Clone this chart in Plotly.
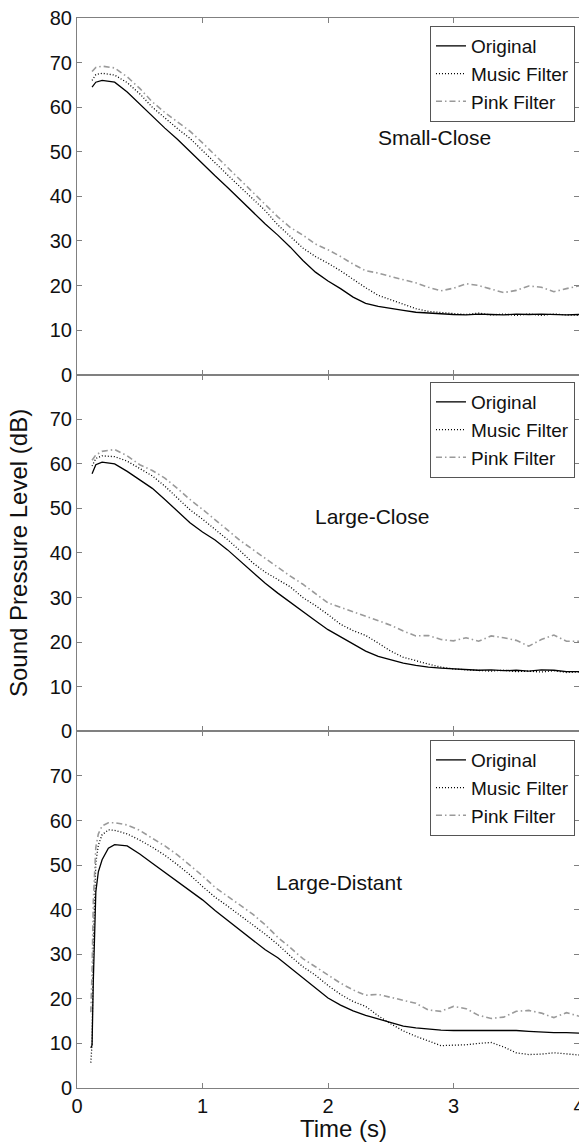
import plotly.graph_objects as go
from plotly.subplots import make_subplots

# ---------------- data ----------------
t_grid = [0.12, 0.15, 0.20, 0.30, 0.40, 0.50, 0.60, 0.70, 0.80, 0.90, 1.00,
          1.10, 1.20, 1.30, 1.40, 1.50, 1.60, 1.70, 1.80, 1.90, 2.00,
          2.10, 2.20, 2.30, 2.40, 2.50, 2.60, 2.70, 2.80, 2.90, 3.00,
          3.10, 3.20, 3.30, 3.40, 3.50, 3.60, 3.70, 3.80, 3.90, 4.00]

# Small-Close
sc_original = [64.5, 65.6, 66.0, 65.6, 63.4, 60.7, 57.8, 55.3, 52.8, 50.0, 47.2,
               44.6, 42.0, 39.2, 36.5, 33.8, 31.3, 28.6, 25.6, 23.0, 21.0,
               19.3, 17.4, 16.0, 15.3, 14.8, 14.4, 14.0, 13.8, 13.6, 13.5,
               13.4, 13.6, 13.5, 13.4, 13.6, 13.5, 13.6, 13.5, 13.4, 13.5]
sc_music = [66.0, 67.3, 67.6, 67.2, 65.5, 63.0, 60.0, 57.5, 55.2, 53.0, 50.2,
            47.4, 44.8, 42.1, 39.5, 36.8, 33.6, 31.0, 28.4, 26.5, 25.0,
            23.3, 21.3, 19.5, 17.8, 16.8, 15.7, 14.8, 14.2, 13.9, 13.7,
            13.5, 13.8, 13.4, 13.6, 13.3, 13.6, 13.3, 13.6, 13.4, 13.3]
sc_pink = [68.0, 68.9, 69.2, 68.8, 66.8, 64.2, 61.2, 58.8, 56.7, 54.6, 52.0,
           49.2, 46.5, 43.8, 40.9, 38.2, 35.4, 33.0, 31.3, 29.3, 28.0,
           26.5, 24.8, 23.3, 22.8, 22.0, 21.3, 20.6, 19.6, 18.8, 19.4,
           20.4, 20.0, 19.2, 18.4, 18.9, 19.9, 19.6, 18.6, 19.3, 19.9]

# Large-Close
lc_original = [57.8, 59.8, 60.4, 60.0, 58.3, 56.3, 54.5, 52.0, 49.5, 46.8, 44.7,
               42.9, 40.7, 38.2, 35.6, 33.2, 31.0, 29.0, 27.0, 24.8, 22.8,
               21.2, 19.7, 18.0, 16.8, 16.0, 15.3, 14.8, 14.4, 14.2, 14.0,
               13.8, 13.7, 13.8, 13.6, 13.7, 13.5, 13.8, 13.7, 13.4, 13.4]
lc_music = [59.5, 61.2, 61.8, 61.6, 60.6, 59.0, 57.3, 55.0, 52.3, 49.7, 47.6,
            45.4, 43.0, 40.5, 37.8, 35.7, 34.0, 32.4, 30.0, 28.2, 26.2,
            24.0, 22.6, 21.5, 19.8, 18.0, 16.6, 15.8, 15.1, 14.4, 14.0,
            13.8, 13.6, 13.5, 13.7, 13.4, 13.5, 13.3, 13.6, 13.2, 13.3]
lc_pink = [60.8, 62.0, 62.8, 63.2, 61.8, 59.8, 58.5, 56.8, 54.5, 52.0, 49.8,
           47.4, 45.0, 42.8, 40.8, 38.8, 36.6, 34.8, 33.0, 31.0, 28.8,
           27.8, 26.8, 25.8, 24.8, 23.8, 22.5, 21.4, 21.5, 20.6, 20.3,
           21.0, 20.2, 21.4, 21.0, 20.4, 19.1, 20.6, 21.6, 20.2, 20.2]

# Large-Distant
t_dist = [0.11, 0.12, 0.13, 0.14, 0.15, 0.17, 0.20, 0.25, 0.30, 0.40, 0.50,
          0.60, 0.70, 0.80, 0.90, 1.00, 1.10, 1.20, 1.30, 1.40, 1.50,
          1.60, 1.70, 1.80, 1.90, 2.00, 2.10, 2.20, 2.30, 2.40, 2.50,
          2.60, 2.70, 2.80, 2.90, 3.00, 3.10, 3.20, 3.30, 3.40, 3.50,
          3.60, 3.70, 3.80, 3.90, 4.00]
ld_original = [9.0, 9.6, 24.0, 38.0, 44.0, 48.5, 51.2, 53.8, 54.6, 54.3, 52.5,
               50.4, 48.4, 46.4, 44.4, 42.2, 39.8, 37.6, 35.2, 33.0, 31.0,
               29.2, 27.0, 24.6, 22.4, 20.2, 18.6, 17.3, 16.3, 15.5, 14.6,
               13.9, 13.5, 13.2, 13.0, 12.9, 12.9, 12.8, 12.9, 12.8, 12.9,
               12.7, 12.5, 12.4, 12.4, 12.3]
ld_music = [5.7, 10.0, 33.0, 45.0, 50.5, 54.5, 56.8, 57.9, 57.8, 57.0, 55.6,
            54.0, 52.2, 50.1, 47.8, 45.2, 42.8, 40.8, 38.8, 36.6, 34.5,
            32.2, 29.6, 27.2, 25.3, 23.0, 21.0, 19.4, 18.3, 16.2, 14.4,
            12.8, 11.6, 10.5, 9.5, 9.6, 9.7, 10.0, 10.2, 9.2, 7.9,
            7.5, 7.6, 7.9, 7.6, 7.4]
ld_pink = [17.0, 26.0, 42.0, 50.0, 54.0, 57.0, 58.8, 59.5, 59.5, 59.0, 57.8,
           56.0, 54.3, 52.3, 50.0, 47.6, 45.0, 43.0, 41.0, 39.0, 36.6,
           33.8, 31.5, 29.0, 27.2, 25.3, 23.5, 22.0, 20.8, 21.0, 20.3,
           19.7, 19.0, 17.5, 17.2, 18.3, 17.8, 16.3, 15.6, 15.9, 17.2,
           17.4, 16.8, 15.8, 16.9, 16.1]

series_names = ["Original", "Music Filter", "Pink Filter"]
panel_labels = ["Small-Close", "Large-Close", "Large-Distant"]
x_ticks = [0, 1, 2, 3, 4]
y_ticks_top = [0, 10, 20, 30, 40, 50, 60, 70, 80]
y_ticks_lower = [0, 10, 20, 30, 40, 50, 60, 70]

# ---------------- figure ----------------
FONT = "Liberation Sans, Arial, Helvetica, sans-serif"
AXIS_GRAY = "#808080"

fig = make_subplots(rows=3, cols=1, shared_xaxes=True, vertical_spacing=0)

panels = [
    (t_grid, sc_original, sc_music, sc_pink),
    (t_grid, lc_original, lc_music, lc_pink),
    (t_dist, ld_original, ld_music, ld_pink),
]
styles = [
    dict(color="black", width=1.3, dash="solid"),
    dict(color="black", width=1.3, dash="1px,2px"),
    dict(color="#9a9a9a", width=1.6, dash="6px,3px,1.5px,3px"),
]
legend_ids = ["legend", "legend2", "legend3"]

for i, (t, o, m, p) in enumerate(panels):
    for name, ys, st in zip(series_names, [o, m, p], styles):
        fig.add_trace(go.Scatter(x=t, y=ys, mode="lines", name=name,
                                 line=st, legend=legend_ids[i]),
                      row=i + 1, col=1)

# axis styling
for i in range(3):
    fig.update_xaxes(range=[0, 4], tickvals=x_ticks, showline=True,
                     linecolor=AXIS_GRAY, linewidth=1, mirror="ticks",
                     ticks="inside", ticklen=5, tickcolor=AXIS_GRAY,
                     showgrid=False, zeroline=False, automargin=False,
                     showticklabels=(i == 2), ticklabeloverflow="allow",
                     tickfont=dict(family=FONT, size=20, color="#111"),
                     row=i + 1, col=1)
    fig.update_yaxes(range=[0, 80],
                     tickvals=(y_ticks_top if i == 0 else y_ticks_lower),
                     showline=True, linecolor=AXIS_GRAY, linewidth=1,
                     mirror="ticks", ticks="inside", ticklen=5,
                     tickcolor=AXIS_GRAY, showgrid=False, zeroline=False,
                     automargin=False,
                     tickfont=dict(family=FONT, size=20, color="#111"),
                     row=i + 1, col=1)

legend_common = dict(xanchor="right", yanchor="top", x=0.992,
                     bgcolor="white", bordercolor="#555", borderwidth=1,
                     font=dict(family=FONT, size=19, color="#111"),
                     itemwidth=30, tracegroupgap=0)
fig.update_layout(
    legend=dict(y=0.9925, **legend_common),
    legend2=dict(y=0.6598, **legend_common),
    legend3=dict(y=0.3252, **legend_common),
)

# panel labels
label_pos = [(2.845, 53.1, "x", "y"), (2.35, 48.2, "x2", "y2"), (2.09, 46.0, "x3", "y3")]
for (lx, ly, xr, yr), txt in zip(label_pos, panel_labels):
    fig.add_annotation(x=lx, y=ly, xref=xr, yref=yr, text=txt, showarrow=False,
                       font=dict(family=FONT, size=21, color="#111"))

# axis titles
fig.add_annotation(x=-0.1175, y=0.5, xref="paper", yref="paper",
                   text="Sound Pressure Level (dB)", textangle=-90,
                   showarrow=False, xanchor="center", yanchor="middle",
                   font=dict(family=FONT, size=24, color="#111"))
fig.add_annotation(x=0.53, y=-0.0374, xref="paper", yref="paper",
                   text="Time (s)", showarrow=False,
                   xanchor="center", yanchor="middle",
                   font=dict(family=FONT, size=24, color="#111"))

fig.update_layout(
    width=579, height=1142,
    margin=dict(l=77, r=0, t=18, b=54, autoexpand=False),
    paper_bgcolor="white", plot_bgcolor="white",
    font=dict(family=FONT, size=20, color="#111"),
)

fig.write_html("out.html")
